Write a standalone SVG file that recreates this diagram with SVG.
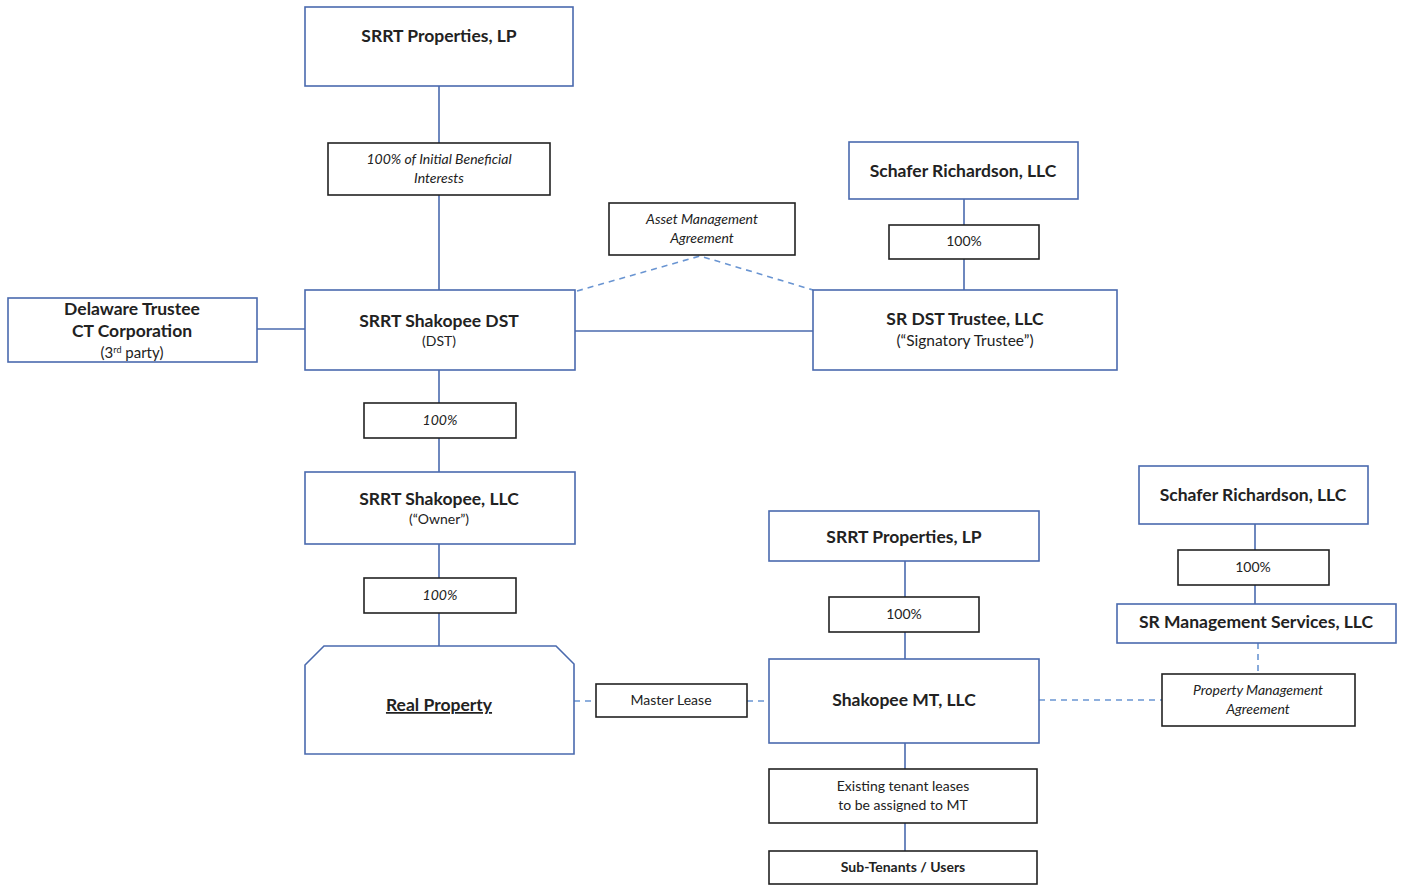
<svg xmlns="http://www.w3.org/2000/svg" width="1404" height="886" viewBox="0 0 1404 886">
<style>
.ent{fill:#fff;stroke:#4a6aae;stroke-width:1.6}
.lbl{fill:#fff;stroke:#222;stroke-width:1.6}
.ln{stroke:#4a6aae;stroke-width:1.6;fill:none}
.dl{stroke:#6a95d2;stroke-width:1.6;fill:none;stroke-dasharray:6,5}
text{font-family:Lato,"Liberation Sans",sans-serif;fill:#222;text-anchor:middle}
.b{font-weight:bold;font-size:17.5px}
.s{font-size:14px}
.i{font-style:italic;font-size:14px}
</style>
<rect width="1404" height="886" fill="#fff"/>
<g id="connectors">
<line class="ln" x1="439" y1="86" x2="439" y2="143"/>
<line class="ln" x1="439" y1="195" x2="439" y2="290"/>
<line class="ln" x1="257" y1="329" x2="305" y2="329"/>
<line class="ln" x1="575" y1="331" x2="813" y2="331"/>
<polyline class="dl" points="577,291 700,256 813,290"/>
<line class="ln" x1="964" y1="199" x2="964" y2="225"/>
<line class="ln" x1="964" y1="259" x2="964" y2="290"/>
<line class="ln" x1="439" y1="370" x2="439" y2="403"/>
<line class="ln" x1="439" y1="438" x2="439" y2="472"/>
<line class="ln" x1="439" y1="544" x2="439" y2="578"/>
<line class="ln" x1="439" y1="613" x2="439" y2="646"/>
<line class="dl" x1="574" y1="701" x2="596" y2="701"/>
<line class="dl" x1="747" y1="701" x2="769" y2="701"/>
<line class="ln" x1="905" y1="561" x2="905" y2="597"/>
<line class="ln" x1="905" y1="632" x2="905" y2="659"/>
<line class="dl" x1="1039" y1="700" x2="1162" y2="700"/>
<line class="dl" x1="1258" y1="643" x2="1258" y2="674"/>
<line class="ln" x1="1255" y1="524" x2="1255" y2="550"/>
<line class="ln" x1="1255" y1="585" x2="1255" y2="604"/>
<line class="ln" x1="905" y1="743" x2="905" y2="769"/>
<line class="ln" x1="905" y1="823" x2="905" y2="851"/>
</g>
<g id="srrt-properties-top">
<rect class="ent" x="305" y="7" width="268" height="79"/>
<text class="b" x="439" y="42">SRRT Properties, LP</text>
</g>
<g id="beneficial-interests">
<rect class="lbl" x="328" y="143" width="222" height="52"/>
<text class="i" x="439" y="164">100% of Initial Beneficial</text>
<text class="i" x="439" y="183">Interests</text>
</g>
<g id="srrt-shakopee-dst">
<rect class="ent" x="305" y="290" width="270" height="80"/>
<text class="b" x="439" y="327">SRRT Shakopee DST</text>
<text class="s" x="439" y="346">(DST)</text>
</g>
<g id="delaware-trustee">
<rect class="ent" x="8" y="298" width="249" height="64"/>
<text class="b" x="132" y="315">Delaware Trustee</text>
<text class="b" x="132" y="337">CT Corporation</text>
<text x="132" y="358" style="font-size:15px">(3<tspan dy="-5" style="font-size:9px">rd</tspan><tspan dy="5"> party)</tspan></text>
</g>
<g id="asset-management">
<rect class="lbl" x="609" y="203" width="186" height="52"/>
<text class="i" x="702" y="224">Asset Management</text>
<text class="i" x="702" y="243">Agreement</text>
</g>
<g id="schafer-richardson-top">
<rect class="ent" x="849" y="142" width="229" height="57"/>
<text class="b" x="963" y="177">Schafer Richardson, LLC</text>
</g>
<g id="pct-sr-trustee">
<rect class="lbl" x="889" y="225" width="150" height="34"/>
<text class="s" x="964" y="246">100%</text>
</g>
<g id="sr-dst-trustee">
<rect class="ent" x="813" y="290" width="304" height="80"/>
<text class="b" x="965" y="325">SR DST Trustee, LLC</text>
<text x="965" y="346" style="font-size:15.5px">(“Signatory Trustee”)</text>
</g>
<g id="pct-dst-llc">
<rect class="lbl" x="364" y="403" width="152" height="35"/>
<text class="i" x="440" y="425">100%</text>
</g>
<g id="srrt-shakopee-llc">
<rect class="ent" x="305" y="472" width="270" height="72"/>
<text class="b" x="439" y="505">SRRT Shakopee, LLC</text>
<text class="s" x="439" y="524">(“Owner”)</text>
</g>
<g id="pct-llc-property">
<rect class="lbl" x="364" y="578" width="152" height="35"/>
<text class="i" x="440" y="600">100%</text>
</g>
<g id="real-property">
<polygon class="ent" points="305,665 324,646 556,646 574,664 574,754 305,754"/>
<text class="b" x="439" y="711" style="text-decoration:underline">Real Property</text>
</g>
<g id="master-lease">
<rect class="lbl" x="596" y="684" width="151" height="33"/>
<text class="s" x="671" y="705">Master Lease</text>
</g>
<g id="srrt-properties-bottom">
<rect class="ent" x="769" y="511" width="270" height="50"/>
<text class="b" x="904" y="543">SRRT Properties, LP</text>
</g>
<g id="pct-mt">
<rect class="lbl" x="829" y="597" width="150" height="35"/>
<text class="s" x="904" y="619">100%</text>
</g>
<g id="shakopee-mt">
<rect class="ent" x="769" y="659" width="270" height="84"/>
<text class="b" x="904" y="706">Shakopee MT, LLC</text>
</g>
<g id="schafer-richardson-right">
<rect class="ent" x="1139" y="466" width="229" height="58"/>
<text class="b" x="1253" y="501">Schafer Richardson, LLC</text>
</g>
<g id="pct-sr-mgmt">
<rect class="lbl" x="1178" y="550" width="151" height="35"/>
<text class="s" x="1253" y="572">100%</text>
</g>
<g id="sr-management">
<rect class="ent" x="1117" y="604" width="279" height="39"/>
<text class="b" x="1256" y="628">SR Management Services, LLC</text>
</g>
<g id="property-management">
<rect class="lbl" x="1162" y="674" width="193" height="52"/>
<text class="i" x="1258" y="695">Property Management</text>
<text class="i" x="1258" y="714">Agreement</text>
</g>
<g id="existing-leases">
<rect class="lbl" x="769" y="769" width="268" height="54"/>
<text class="s" x="903" y="791">Existing tenant leases</text>
<text class="s" x="903" y="810">to be assigned to MT</text>
</g>
<g id="sub-tenants">
<rect class="lbl" x="769" y="851" width="268" height="33"/>
<text x="903" y="872" style="font-size:14px;font-weight:bold">Sub-Tenants / Users</text>
</g>
</svg>
